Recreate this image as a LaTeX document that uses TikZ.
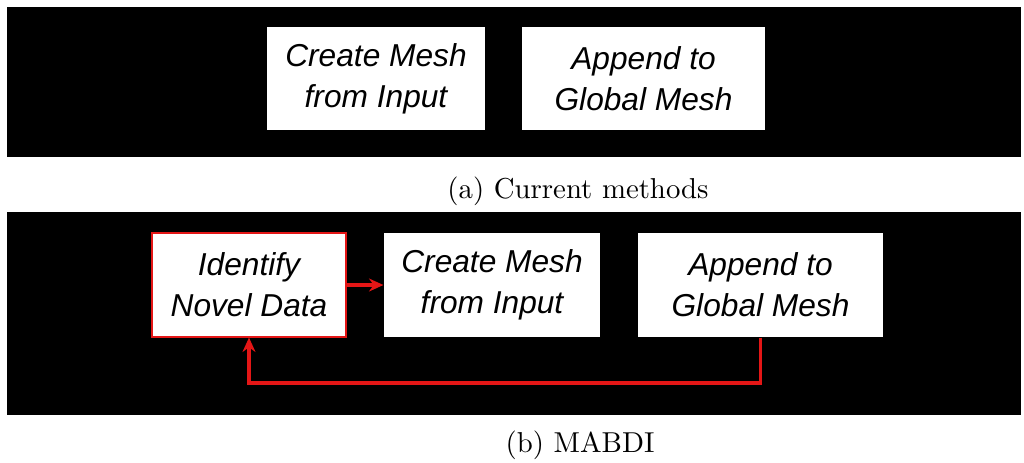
\documentclass[tikz,border=0pt]{standalone}
\usepackage{fontspec}
\newfontfamily\boxfont{Liberation Sans}
\usetikzlibrary{arrows.meta}
\definecolor{fbred}{RGB}{228,22,22}
\begin{document}
\begin{tikzpicture}[x=0.3472pt,y=-0.3472pt,
  panel/.style={fill=black},
  stepbox/.style={rectangle, fill=white, draw=none, inner sep=0pt, align=center,
    minimum height=35.5pt, font=\boxfont\itshape\fontsize{11}{14.2}\selectfont},
  redarrow/.style={draw=fbred, line width=1.3pt, -{Stealth[length=5pt,width=4.5pt]}},
  caption/.style={anchor=base, inner sep=0pt, font=\fontsize{10}{12}\selectfont}]
\useasboundingbox (0,0) rectangle (1024,462);
\fill[white] (0,0) rectangle (1024,462);
% panels
\fill[panel] (7,7) rectangle (1021,157);
\fill[panel] (7,212) rectangle (1021,415);
% (a)
\node[stepbox, minimum width=75.7pt] (a1) at (376,78.5) {Create Mesh\\from Input};
\node[stepbox, minimum width=84.4pt] (a2) at (643.5,78.5) {Append to\\Global Mesh};
\node[caption] (capa) at (578,198) {(a) Current methods};
% (b)
\node[stepbox, minimum width=67.4pt, minimum height=36.1pt, draw=fbred, line width=0.4pt] (b1) at (249,285) {Identify\\Novel Data};
\node[stepbox, minimum width=75pt, minimum height=36.1pt] (b2) at (492,285) {Create Mesh\\from Input};
\node[stepbox, minimum width=85.1pt, minimum height=36.1pt] (b3) at (760.5,285) {Append to\\Global Mesh};
\coordinate (fb) at (249,383);
\draw[redarrow] (b1) -- (b2);
\draw[redarrow] (b3.south) |- (fb) -- (b1.south);
\node[caption] (capb) at (580,452) {(b) MABDI};
\end{tikzpicture}
\end{document}
